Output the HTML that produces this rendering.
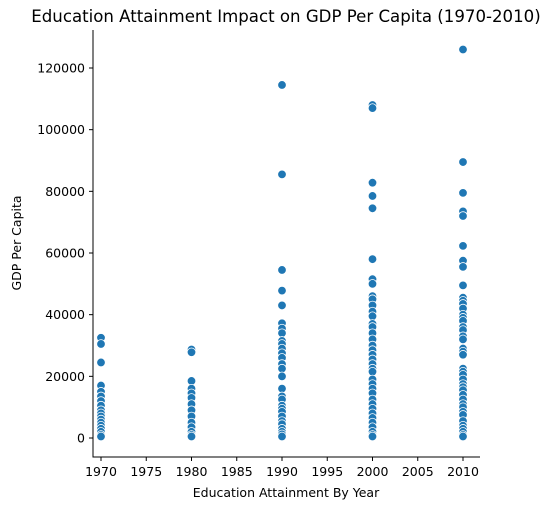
<!DOCTYPE html>
<html><head><meta charset="utf-8"><style>
body{margin:0;background:#fff}
svg text{font-family:"DejaVu Sans","Liberation Sans",sans-serif;fill:#000}
</style></head><body>
<svg id="chart" width="552" height="510" xmlns="http://www.w3.org/2000/svg">
<text x="286" y="22" font-size="16.6" text-anchor="middle">Education Attainment Impact on GDP Per Capita (1970-2010)</text>
<g id="axes"></g>
<g id="points"></g>
<text x="286" y="497" font-size="12.5" text-anchor="middle">Education Attainment By Year</text>
<text transform="translate(21,243) rotate(-90)" font-size="12.5" text-anchor="middle">GDP Per Capita</text>
</svg>
<script>
const years = [1970, 1980, 1990, 2000, 2010];
const gdp1970 = [32500,30500,24500,17000,15000,13500,12000,10500,9000,8000,7000,6000,5000,4000,3000,2000,1000,500];
const gdp1980 = [28700,27800,18500,16000,14500,13000,11000,9000,7000,5000,3500,2000,1000,500];
const gdp1990 = [114500,85500,54500,47800,43000,37200,35500,34000,31500,30500,29000,27500,26000,24000,22500,20000,16000,13500,12500,10500,9500,8500,7000,5500,4500,3000,2000,1200,500];
const gdp2000 = [108000,107000,82800,78500,74500,58000,51500,50000,46000,45000,43000,41000,39500,37000,36000,34000,32000,30000,28500,27000,25500,24000,22500,21500,19000,17500,16000,14500,12500,11000,9500,8000,6500,5000,3500,2000,1000,500];
const gdp2010 = [126000,89500,79500,73500,72000,62300,57500,55500,49500,45500,44500,43500,42000,40000,39000,38000,36000,35000,33000,32000,29000,28000,27000,22500,21500,20500,19000,17500,16500,15500,14000,12500,11000,10000,8500,7500,5500,4000,3000,2000,1000,500];
const xTicks = [1970,1975,1980,1985,1990,1995,2000,2005,2010];
const yTicks = [0,20000,40000,60000,80000,100000,120000];
const series = [gdp1970, gdp1980, gdp1990, gdp2000, gdp2010];

const NS="http://www.w3.org/2000/svg";
const X = v => 101 + (v-1970)*(362/40);
const Y = v => 438 - v*(370/120000);
const axes=document.getElementById('axes'), pts=document.getElementById('points');
function mk(tag,attrs,parent){const e=document.createElementNS(NS,tag);for(const k in attrs)e.setAttribute(k,attrs[k]);parent.appendChild(e);return e;}
let l=mk('line',{x1:93,y1:30,x2:93,y2:457.5,stroke:'#000','stroke-width':1},axes);


l=mk('line',{x1:92.5,y1:457,x2:480,y2:457,stroke:'#000','stroke-width':1},axes);


xTicks.forEach(t=>{
  const tk=mk('line',{x1:X(t),y1:457,x2:X(t),y2:461,stroke:'#000'},axes);
  
  
  const tx=mk('text',{x:X(t),y:476,'font-size':12.5,'text-anchor':'middle'},axes);
  tx.textContent=t;
  
  
});
yTicks.forEach(t=>{
  const tk=mk('line',{x1:89,y1:Y(t),x2:93,y2:Y(t),stroke:'#000'},axes);
  
  
  const tx=mk('text',{x:85,y:Y(t)+4.5,'font-size':12.5,'text-anchor':'end'},axes);
  tx.textContent=t;
  
  
});
series.forEach((arr,i)=>{
  arr.forEach(v=>{
    const c=mk('circle',{cx:X(years[i]),cy:Y(v),r:4.3,fill:'#1f77b4',stroke:'#fff','stroke-width':0.8},pts);
    
    
  });
});
</script>
</body></html>
